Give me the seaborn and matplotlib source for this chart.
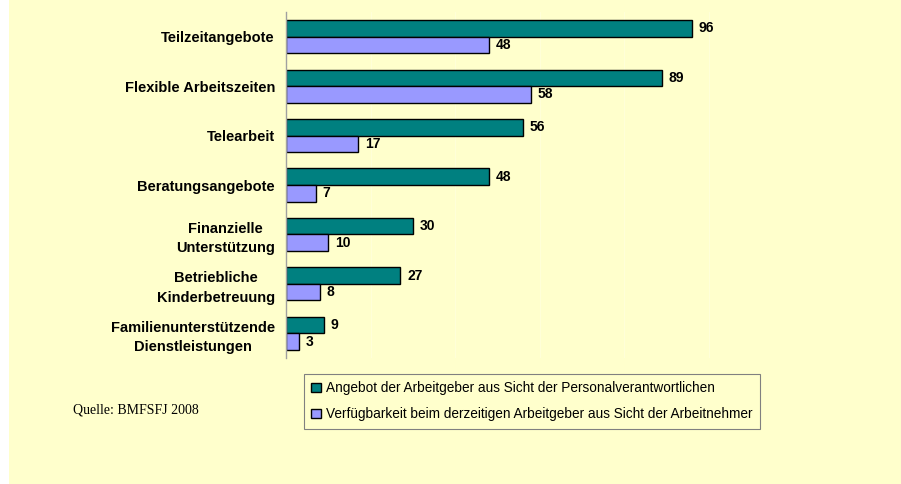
import matplotlib
matplotlib.use("Agg")
import matplotlib.pyplot as plt
from matplotlib.patches import Rectangle
from matplotlib.ticker import FixedLocator
import seaborn as sns
import pandas as pd

categories = [
    "Teilzeitangebote",
    "Flexible Arbeitszeiten",
    "Telearbeit",
    "Beratungsangebote",
    "Finanzielle\nUnterstützung",
    "Betriebliche\nKinderbetreuung",
    "Familienunterstützende\nDienstleistungen",
]
series_names = [
    "Angebot der Arbeitgeber aus Sicht der Personalverantwortlichen",
    "Verfügbarkeit beim derzeitigen Arbeitgeber aus Sicht der Arbeitnehmer",
]
angebot = [96, 89, 56, 48, 30, 27, 9]
verfuegbarkeit = [48, 58, 17, 7, 10, 8, 3]
colors = ["#008080", "#9999FF"]
source_text = "Quelle: BMFSFJ 2008"

df = pd.DataFrame({
    "Kategorie": categories * 2,
    "Wert": angebot + verfuegbarkeit,
    "Serie": [series_names[0]] * len(categories) + [series_names[1]] * len(categories),
})

sns.set_theme(style="white")
plt.rcParams["font.family"] = ["Liberation Sans", "DejaVu Sans"]
plt.rcParams["text.color"] = "black"
plt.rcParams["ytick.color"] = "black"
plt.rcParams["ytick.labelcolor"] = "black"

bg = "#FFFFCC"
fig = plt.figure(figsize=(9.01, 4.84), dpi=100, facecolor=bg)
fig.patches.append(Rectangle((0, 0), 9 / 901, 1, transform=fig.transFigure,
                             facecolor="white", edgecolor="none", zorder=0))
ax = fig.add_axes([286 / 901, 1 - 358 / 484, (793 - 286) / 901, (358 - 12) / 484])
ax.set_facecolor(bg)

sns.barplot(data=df, y="Kategorie", x="Wert", hue="Serie", order=categories,
            hue_order=series_names, palette=colors, orient="h", width=0.67,
            edgecolor="black", linewidth=1, saturation=1, ax=ax, legend=True)

ax.set_xlim(0, 120)
ax.set_ylim(len(categories) - 0.5, -0.5)
ax.set_xlabel("")
ax.set_ylabel("")
ax.set_xticks([20, 40, 60, 80, 100, 120])
ax.tick_params(axis="x", length=0, labelbottom=False)
ax.xaxis.grid(True, color="white", linewidth=0.8, alpha=0.25)
ax.set_axisbelow(True)

for s in ["top", "right", "bottom"]:
    ax.spines[s].set_visible(False)
ax.spines["left"].set_color("#A0A0A0")
ax.spines["left"].set_linewidth(1)

ax.tick_params(axis="y", which="major", length=0, pad=8)
ax.yaxis.set_minor_locator(FixedLocator([i - 0.5 for i in range(len(categories) + 1)]))
ax.tick_params(axis="y", which="minor", length=4, color="#A0A0A0", width=1, direction="out")
for lab in ax.get_yticklabels():
    lab.set_fontweight("bold")
    lab.set_fontsize(10.5)
    lab.set_multialignment("center")
    lab.set_linespacing(1.5)
    lab.set_color("black")

for cont in ax.containers:
    ax.bar_label(cont, padding=5, fontsize=10, fontweight="bold", color="black")

leg = ax.legend(loc="upper left", bbox_to_anchor=(304 / 901, 1 - 374 / 484),
                bbox_transform=fig.transFigure, frameon=True, fancybox=False,
                facecolor=bg, edgecolor="#808080", fontsize=9.8,
                handlelength=0.7, handleheight=0.7, handletextpad=0.4,
                labelspacing=0.85, borderpad=0.55, borderaxespad=0, framealpha=1)
leg.get_frame().set_linewidth(0.8)
for t in leg.get_texts():
    t.set_color("black")

fig.text(73 / 901, 1 - 410 / 484, source_text, family="Liberation Serif",
         fontsize=10, va="center", ha="left", color="black")

fig.savefig("out.png", dpi=100, facecolor=bg)
